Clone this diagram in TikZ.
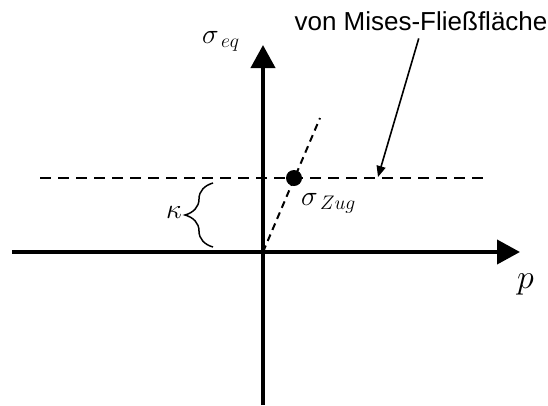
\RequirePackage{fix-cm}
\documentclass[tikz,border=0pt]{standalone}
\usepackage{fontspec}
\setmainfont{Liberation Sans}
\usetikzlibrary{arrows.meta,decorations.pathreplacing}

\tikzset{
  axis/.style={line width=4pt, -{Triangle[length=23pt,width=24pt]}},
  guide/.style={line width=2pt, dash pattern=on 11pt off 7pt},
  slope/.style={line width=2pt, dash pattern=on 7pt off 5pt},
  pointer/.style={line width=1.6pt, -{Triangle[length=11pt,width=9pt]}},
  mathlabel/.style={inner sep=0pt, font=\fontsize{28}{32}\selectfont},
}

\begin{document}
\begin{tikzpicture}[x=1pt,y=-1pt]
\useasboundingbox (0,0) rectangle (548,405);
% axes
\coordinate (O) at (263,252);
\coordinate (pleft) at (12,252);
\coordinate (pright) at (520,252);
\coordinate (sbottom) at (263,405);
\coordinate (stop) at (263,45);
\draw[axis] (pleft) -- (pright);
\draw[axis] (sbottom) -- (stop);
% von Mises surface and tension path
\coordinate (yleft) at (40,178);
\coordinate (yright) at (487,178);
\draw[guide] (yleft) -- (yright);
\coordinate (ztop) at (320,118);
\draw[slope] (O) -- (ztop);
\node[circle, fill, inner sep=0pt, minimum size=16pt] (zug) at (294,178) {};
% labels
\node[mathlabel, anchor=base west] (seq) at (202,43) {$\sigma_{\,eq}$};
\node[mathlabel, anchor=base west] (szug) at (301,205) {$\sigma_{\,Zug}$};
\node[mathlabel, font=\fontsize{34}{38}\selectfont, anchor=base west] (plabel) at (517,288) {$p$};
% kappa
\draw[line width=1.5pt, decorate, decoration={brace, amplitude=28pt}] (213,247) -- (213,183);
\node[mathlabel, anchor=east] (kappa) at (182,212) {$\kappa$};
% pointer
\node[inner sep=0pt, font=\fontsize{26}{30}\selectfont] (vm) at (421,21) {von Mises-Fließfläche};
\coordinate (vmhit) at (378,177);
\draw[pointer, shorten <=8pt] (vm.south) -- (vmhit);
\end{tikzpicture}
\end{document}
